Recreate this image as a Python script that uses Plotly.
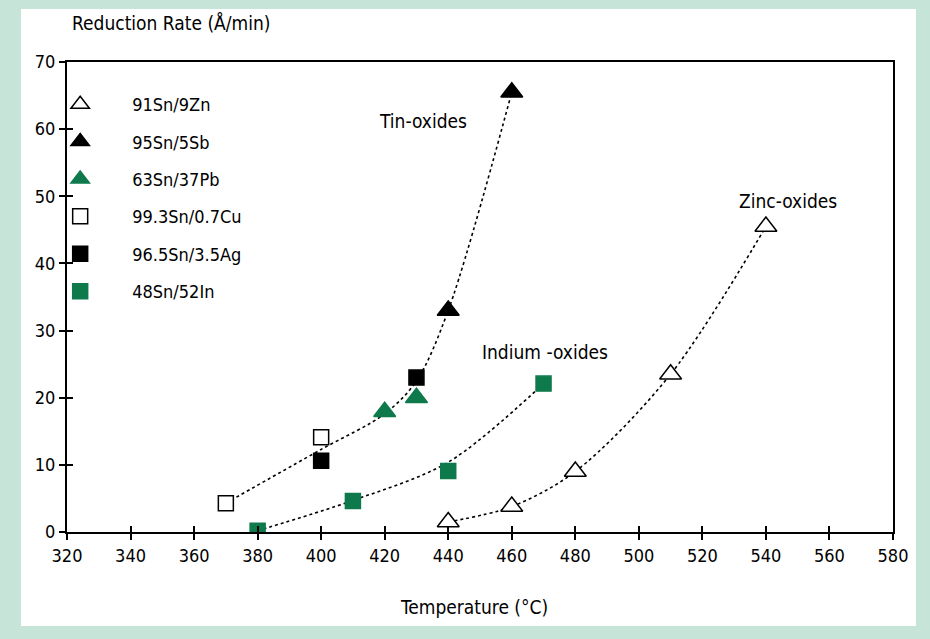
import plotly.graph_objects as go

# ---- data ----
zn_x = [440, 460, 480, 510, 540]          # 91Sn/9Zn
zn_y = [1.5, 3.8, 9.0, 23.5, 45.5]
sb_x = [440, 460]                         # 95Sn/5Sb
sb_y = [33.0, 65.5]
pb_x = [420, 430]                         # 63Sn/37Pb
pb_y = [17.9, 20.0]
cu_x = [370, 400]                         # 99.3Sn/0.7Cu
cu_y = [4.3, 14.1]
ag_x = [400, 430]                         # 96.5Sn/3.5Ag
ag_y = [10.6, 23.0]
in_x = [380, 410, 440, 470]               # 48Sn/52In
in_y = [0.2, 4.6, 9.1, 22.1]

# fitted guide curves
tin_curve_x = [370, 400, 420, 430, 440, 460]
tin_curve_y = [4.3, 12.3, 17.6, 22.5, 33.0, 65.5]
indium_curve_x = [380, 410, 440, 470]
indium_curve_y = [0.2, 4.7, 10.4, 22.1]
zinc_curve_x = [440, 460, 480, 510, 540]
zinc_curve_y = [1.5, 3.8, 9.0, 23.5, 45.5]

x_ticks = list(range(320, 581, 20))
y_ticks = list(range(0, 71, 10))

curve_labels = ["Tin-oxides", "Indium -oxides", "Zinc-oxides"]
label_x = [432, 470.5, 547]
label_y = [61.2, 26.8, 49.3]

GREEN = "#0e7a4c"
BG = "#c6e4d8"
FONT = "DejaVu Sans Condensed, Liberation Sans Narrow, DejaVu Sans"

fig = go.Figure()

for cx, cy in [(tin_curve_x, tin_curve_y), (indium_curve_x, indium_curve_y),
               (zinc_curve_x, zinc_curve_y)]:
    fig.add_trace(go.Scatter(x=cx, y=cy, mode="lines", showlegend=False,
                             line=dict(color="black", width=1.6, dash="dot",
                                       shape="spline", smoothing=0.9),
                             hoverinfo="skip"))

series = [
    ("91Sn/9Zn", zn_x, zn_y, "triangle-up", "white"),
    ("95Sn/5Sb", sb_x, sb_y, "triangle-up", "black"),
    ("63Sn/37Pb", pb_x, pb_y, "triangle-up", GREEN),
    ("99.3Sn/0.7Cu", cu_x, cu_y, "square", "white"),
    ("96.5Sn/3.5Ag", ag_x, ag_y, "square", "black"),
    ("48Sn/52In", in_x, in_y, "square", GREEN),
]
for i, (name, xs, ys, sym, col) in enumerate(series):
    lc = "black" if col in ("white", "black") else col
    size = 19 if sym.startswith("triangle") else 15
    fig.add_trace(go.Scatter(x=xs, y=ys, mode="markers", name=name,
                             legendgroup=f"g{i}",
                             marker=dict(symbol=sym, size=size, color=col,
                                         line=dict(color=lc, width=1.5))))

for t, lx, ly in zip(curve_labels, label_x, label_y):
    fig.add_annotation(x=lx, y=ly, text=t, showarrow=False,
                       font=dict(family=FONT, size=19, color="black"))

fig.add_annotation(xref="paper", yref="paper", x=0.004, y=1.083,
                   xanchor="left", yanchor="middle", showarrow=False,
                   text="Reduction Rate (Å/min)",
                   font=dict(family=FONT, size=19, color="black"))
fig.add_annotation(xref="paper", yref="paper", x=0.493, y=-0.16,
                   xanchor="center", yanchor="middle", showarrow=False,
                   text="Temperature (°C)",
                   font=dict(family=FONT, size=19, color="black"))

# white panel on green background
fig.add_shape(type="rect", xref="paper", yref="paper", layer="below",
              x0=(21 - 67) / 826, x1=(916 - 67) / 826,
              y0=(532 - 626) / 470, y1=(532 - 9) / 470,
              fillcolor="white", line=dict(width=0))

axis_common = dict(showgrid=False, zeroline=False, linecolor="black",
                   linewidth=2, tickcolor="black", ticklen=6, tickwidth=1.5,
                   tickfont=dict(family=FONT, size=18, color="black"))

fig.update_layout(
    width=930, height=639,
    margin=dict(l=67, r=37, t=62, b=107),
    paper_bgcolor=BG,
    plot_bgcolor="rgba(0,0,0,0)",
    xaxis=dict(range=[320, 580], tickvals=x_ticks, ticks="outside",
               showline=True, mirror=True, **axis_common),
    yaxis=dict(range=[0, 70], tickvals=y_ticks, ticks="outside",
               showline=True, mirror=True, **axis_common),
    xaxis2=dict(range=[320, 580], tickvals=x_ticks, ticks="inside",
                overlaying="x", side="bottom", showticklabels=False,
                showgrid=False, zeroline=False, ticklen=6, tickwidth=1.5,
                tickcolor="black", showline=False),
    yaxis2=dict(range=[0, 70], tickvals=y_ticks, ticks="inside",
                overlaying="y", side="left", showticklabels=False,
                showgrid=False, zeroline=False, ticklen=6, tickwidth=1.5,
                tickcolor="black", showline=False),
    legend=dict(x=-0.047, y=0.949, xanchor="left", yanchor="top",
                bgcolor="rgba(0,0,0,0)", tracegroupgap=11, itemwidth=94,
                font=dict(family=FONT, size=18, color="black"),
                traceorder="grouped"),
    showlegend=True,
)
# invisible trace to activate secondary (crossing-tick) axes
fig.add_trace(go.Scatter(x=[320], y=[0], xaxis="x2", yaxis="y2",
                         mode="markers", marker=dict(opacity=0),
                         showlegend=False, hoverinfo="skip"))

fig.write_html("out.html", config={"displayModeBar": False},
               post_script="document.body.style.margin='0';"
                           "document.body.style.background='%s';" % BG)
